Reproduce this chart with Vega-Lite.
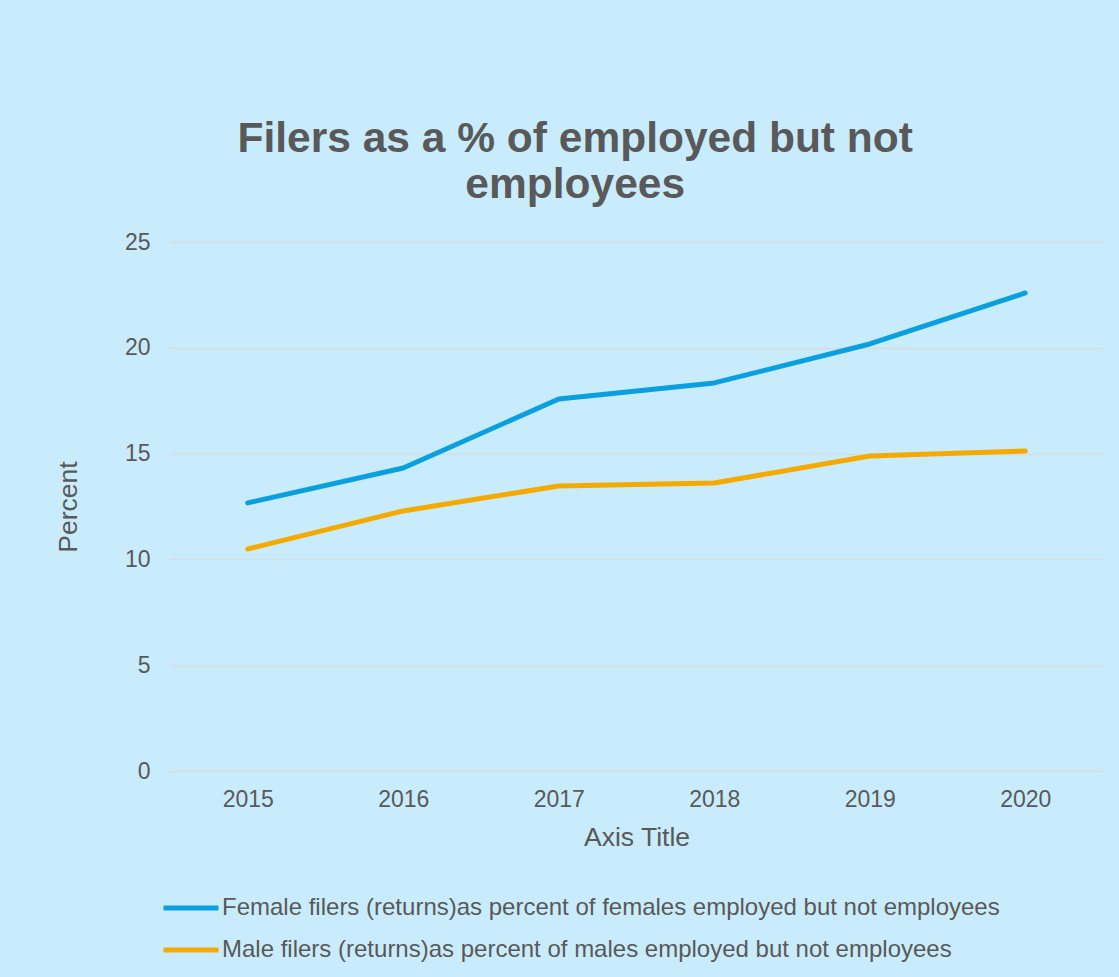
{
  "$schema": "https://vega.github.io/schema/vega-lite/v6.json",
  "width": 933,
  "height": 529,
  "autosize": {"type": "none"},
  "padding": {"left": 170, "top": 242, "right": 16, "bottom": 206},
  "background": "#C9ECFC",
  "config": {
    "font": "Liberation Sans",
    "view": {"stroke": null},
    "axis": {"labelColor": "#595959", "titleColor": "#595959", "labelFont": "Liberation Sans", "titleFont": "Liberation Sans", "titleFontWeight": "normal"}
  },
  "title": {
    "text": ["Filers as a % of employed but not", "employees"],
    "fontSize": 42.5,
    "fontWeight": "bold",
    "color": "#595959",
    "font": "Liberation Sans",
    "anchor": "middle",
    "frame": "bounds",
    "lineHeight": 46,
    "offset": 25,
    "dx": -4
  },
  "data": {
    "values": [
      {"year": "2015", "series": "Female filers (returns)as percent of females employed but not employees", "value": 12.67},
      {"year": "2016", "series": "Female filers (returns)as percent of females employed but not employees", "value": 14.32},
      {"year": "2017", "series": "Female filers (returns)as percent of females employed but not employees", "value": 17.58},
      {"year": "2018", "series": "Female filers (returns)as percent of females employed but not employees", "value": 18.34},
      {"year": "2019", "series": "Female filers (returns)as percent of females employed but not employees", "value": 20.18},
      {"year": "2020", "series": "Female filers (returns)as percent of females employed but not employees", "value": 22.59},
      {"year": "2015", "series": "Male filers (returns)as percent of males employed but not employees", "value": 10.49},
      {"year": "2016", "series": "Male filers (returns)as percent of males employed but not employees", "value": 12.29},
      {"year": "2017", "series": "Male filers (returns)as percent of males employed but not employees", "value": 13.47},
      {"year": "2018", "series": "Male filers (returns)as percent of males employed but not employees", "value": 13.61},
      {"year": "2019", "series": "Male filers (returns)as percent of males employed but not employees", "value": 14.89},
      {"year": "2020", "series": "Male filers (returns)as percent of males employed but not employees", "value": 15.12}
    ]
  },
  "mark": {"type": "line", "strokeWidth": 5, "strokeCap": "round", "strokeJoin": "round"},
  "encoding": {
    "x": {
      "field": "year",
      "type": "ordinal",
      "scale": {"type": "point", "padding": 0.5},
      "axis": {
        "title": "Axis Title",
        "titleFontSize": 26.5,
        "titlePadding": 13,
        "labelFontSize": 23,
        "labelPadding": 17,
        "labelAngle": 0,
        "domain": false,
        "ticks": false,
        "grid": false
      }
    },
    "y": {
      "field": "value",
      "type": "quantitative",
      "scale": {"domain": [0, 25]},
      "axis": {
        "title": "Percent",
        "titleFontSize": 26.5,
        "titlePadding": 42,
        "labelFontSize": 23,
        "labelPadding": 20,
        "values": [0, 5, 10, 15, 20, 25],
        "domain": false,
        "ticks": false,
        "grid": true,
        "gridColor": "#D6DCE0",
        "gridWidth": 1.5
      }
    },
    "color": {
      "field": "series",
      "type": "nominal",
      "scale": {
        "domain": ["Female filers (returns)as percent of females employed but not employees", "Male filers (returns)as percent of males employed but not employees"],
        "range": ["#0A9FDF", "#F5AA00"]
      },
      "legend": {
        "title": null,
        "orient": "none",
        "legendX": -9,
        "legendY": 636,
        "direction": "vertical",
        "symbolType": "stroke",
        "symbolSize": 3025,
        "symbolStrokeWidth": 5,
        "labelFontSize": 24,
        "labelColor": "#595959",
        "labelFont": "Liberation Sans",
        "labelLimit": 0,
        "labelOffset": 1,
        "rowPadding": -16
      }
    }
  }
}
